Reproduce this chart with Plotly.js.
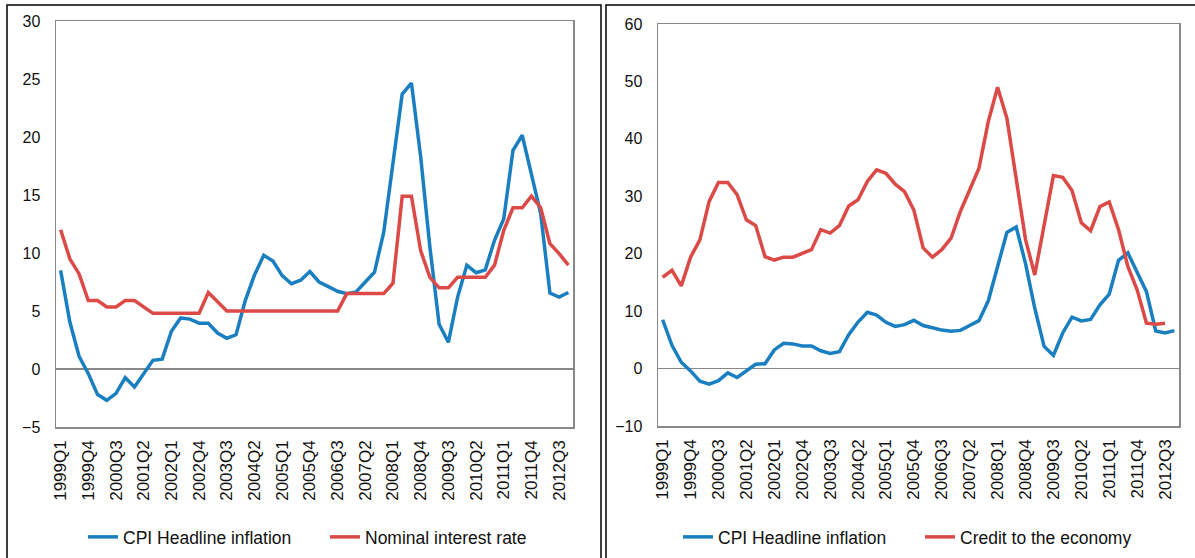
<!DOCTYPE html>
<html>
<head>
<meta charset="utf-8">
<script src="https://cdn.plot.ly/plotly-3.0.1.min.js"></script>
<style>
html,body{margin:0;padding:0;background:#fff;}
#chart{width:1195px;height:558px;}
</style>
</head>
<body>
<div id="chart"></div>
<script>
var quarters = [
  "1999Q1","1999Q2","1999Q3","1999Q4","2000Q1","2000Q2","2000Q3","2000Q4",
  "2001Q1","2001Q2","2001Q3","2001Q4","2002Q1","2002Q2","2002Q3","2002Q4",
  "2003Q1","2003Q2","2003Q3","2003Q4","2004Q1","2004Q2","2004Q3","2004Q4",
  "2005Q1","2005Q2","2005Q3","2005Q4","2006Q1","2006Q2","2006Q3","2006Q4",
  "2007Q1","2007Q2","2007Q3","2007Q4","2008Q1","2008Q2","2008Q3","2008Q4",
  "2009Q1","2009Q2","2009Q3","2009Q4","2010Q1","2010Q2","2010Q3","2010Q4",
  "2011Q1","2011Q2","2011Q3","2011Q4","2012Q1","2012Q2","2012Q3","2012Q4"
];
var tickLabels = ["1999Q1","1999Q4","2000Q3","2001Q2","2002Q1","2002Q4","2003Q3",
  "2004Q2","2005Q1","2005Q4","2006Q3","2007Q2","2008Q1","2008Q4","2009Q3",
  "2010Q2","2011Q1","2011Q4","2012Q3"];

var cpiInflation = [8.5, 4.05, 1.1, -0.4, -2.2, -2.7, -2.1, -0.75, -1.55, -0.35,
  0.75, 0.85, 3.25, 4.4, 4.3, 3.95, 3.95, 3.1, 2.65, 2.95,
  5.9, 8.1, 9.8, 9.3, 8.05, 7.35, 7.65, 8.4, 7.5, 7.1,
  6.7, 6.5, 6.65, 7.5, 8.35, 11.8, 18.0, 23.7, 24.65, 18.3,
  10.5, 3.85, 2.3, 6.2, 8.95, 8.3, 8.55, 11.1, 12.95, 18.85,
  20.15, 16.8, 13.4, 6.55, 6.2, 6.6];

var nominalRate = [12, 9.5, 8.2, 5.9, 5.9, 5.35, 5.35, 5.9, 5.9, 5.35,
  4.8, 4.8, 4.8, 4.8, 4.8, 4.8, 6.6, 5.85, 5.0, 5.0,
  5.0, 5.0, 5.0, 5.0, 5.0, 5.0, 5.0, 5.0, 5.0, 5.0,
  5.0, 6.5, 6.5, 6.5, 6.5, 6.5, 7.4, 14.9, 14.9, 10.2,
  7.9, 7.0, 7.0, 7.9, 7.9, 7.9, 7.9, 8.95, 11.95, 13.9,
  13.9, 14.9, 13.9, 10.8, 9.95, 8.95];

var creditEconomy = [15.9, 17.1, 14.4, 19.4, 22.4, 29.1, 32.4, 32.4, 30.3, 25.9,
  24.9, 19.5, 18.9, 19.4, 19.4, 20.1, 20.7, 24.2, 23.6, 24.9,
  28.3, 29.4, 32.6, 34.6, 34.0, 32.1, 30.8, 27.6, 21.0, 19.4,
  20.7, 22.7, 27.35, 31.1, 34.9, 43.0, 49.0, 43.6, 33.4, 22.5,
  16.3, 24.7, 33.6, 33.3, 31.0, 25.4, 24.0, 28.2, 29.0, 24.2,
  17.8, 13.7, 7.9, 7.7, 7.9];

var BLUE = '#1a7fc1', RED = '#dc4a48';
var W = 1195, H = 558;
var FAM = '"Liberation Sans", Arial, sans-serif';
var YFONT = {family: FAM, size: 16, color: '#111'};
var XFONT = {family: FAM, size: 17, color: '#111'};
var LFONT = {family: FAM, size: 17.5, color: '#111'};

function px(x){return x/W;}
function py(y){return 1 - y/H;}

var traces = [
  {x: quarters, y: cpiInflation, type: 'scatter', mode: 'lines', name: 'CPI Headline inflation',
   line: {color: BLUE, width: 3.5}, xaxis: 'x', yaxis: 'y', legend: 'legend'},
  {x: quarters, y: nominalRate, type: 'scatter', mode: 'lines', name: 'Nominal interest rate',
   line: {color: RED, width: 3.5}, xaxis: 'x', yaxis: 'y', legend: 'legend'},
  {x: quarters, y: cpiInflation, type: 'scatter', mode: 'lines', name: 'CPI Headline inflation',
   line: {color: BLUE, width: 3.5}, xaxis: 'x2', yaxis: 'y2', legend: 'legend2'},
  {x: quarters.slice(0, creditEconomy.length), y: creditEconomy, type: 'scatter', mode: 'lines', name: 'Credit to the economy',
   line: {color: RED, width: 3.5}, xaxis: 'x2', yaxis: 'y2', legend: 'legend2'}
];

function xax(dom){
  return {domain: dom, type: 'category', categoryorder: 'array', categoryarray: quarters,
    range: [-0.5, quarters.length - 0.5], tickmode: 'array', tickvals: tickLabels, ticktext: tickLabels,
    tickangle: -90, ticks: '', showgrid: false, zeroline: false,
    showline: true, mirror: true, linecolor: '#888', linewidth: 1.5,
    tickfont: XFONT, ticklabelstandoff: 5, fixedrange: true};
}
function yax(dom, rng, dt, anchor){
  return {domain: dom, range: rng, dtick: dt, tick0: 0, ticks: '', showgrid: false,
    zeroline: true, zerolinecolor: '#888', zerolinewidth: 1.5,
    showline: true, mirror: true, linecolor: '#888', linewidth: 1.5,
    tickfont: YFONT, ticklabelstandoff: 11, anchor: anchor, fixedrange: true};
}

var layout = {
  width: W, height: H,
  margin: {l: 0, r: 0, t: 0, b: 0},
  paper_bgcolor: '#fff', plot_bgcolor: '#fff',
  font: LFONT,
  showlegend: true,
  xaxis: Object.assign(xax([px(56), px(573)]), {anchor: 'y'}),
  yaxis: yax([py(427), py(21)], [-5, 30], 5, 'x'),
  xaxis2: Object.assign(xax([px(658), px(1179)]), {anchor: 'y2'}),
  yaxis2: yax([py(426), py(24)], [-10, 60], 10, 'x2'),
  legend: {orientation: 'h', x: px(83), xanchor: 'left', y: py(537), yanchor: 'middle',
    font: LFONT, bgcolor: 'rgba(0,0,0,0)', entrywidth: 197, entrywidthmode: 'pixels',
    itemclick: false, itemdoubleclick: false},
  legend2: {orientation: 'h', x: px(678), xanchor: 'left', y: py(537), yanchor: 'middle',
    font: LFONT, bgcolor: 'rgba(0,0,0,0)', entrywidth: 197, entrywidthmode: 'pixels',
    itemclick: false, itemdoubleclick: false},
  shapes: [
    {type: 'rect', xref: 'paper', yref: 'paper', x0: px(7), x1: px(601), y0: py(570), y1: py(5),
     line: {color: '#000', width: 1.5}, fillcolor: 'rgba(0,0,0,0)'},
    {type: 'rect', xref: 'paper', yref: 'paper', x0: px(606), x1: px(1205), y0: py(570), y1: py(5),
     line: {color: '#000', width: 1.5}, fillcolor: 'rgba(0,0,0,0)'}
  ]
};

Plotly.newPlot('chart', traces, layout, {staticPlot: true, displayModeBar: false});
</script>
</body>
</html>
